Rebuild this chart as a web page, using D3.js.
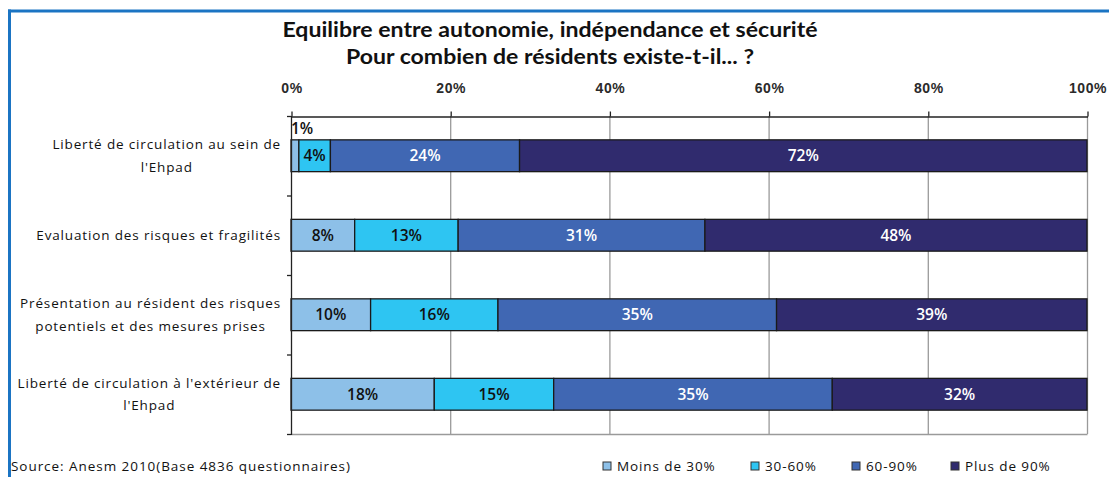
<!DOCTYPE html>
<html>
<head>
<meta charset="utf-8">
<script src="https://cdn.jsdelivr.net/npm/d3@7"></script>
<style>
  html, body { margin: 0; padding: 0; background: #fff; }
  svg { display: block; }
</style>
</head>
<body>
<svg id="chart" width="1109" height="477"></svg>
<script>
// Categories (line breaks mark where the label wraps)
const categories = [
  "Liberté de circulation au sein de\nl'Ehpad",
  "Evaluation des risques et fragilités",
  "Présentation au résident des risques\npotentiels et des mesures prises",
  "Liberté de circulation à l'extérieur de\nl'Ehpad"
];
const seriesNames = ["Moins de 30%", "30-60%", "60-90%", "Plus de 90%"];
const moins30 = [1, 8, 10, 18];
const de30a60 = [4, 13, 16, 15];
const de60a90 = [24, 31, 35, 35];
const plus90  = [72, 48, 39, 32];
const tickValues = [0, 20, 40, 60, 80, 100];
const titleLines = [
  "Equilibre entre autonomie, indépendance et sécurité",
  "Pour combien de résidents existe-t-il... ?"
];
const sourceText = "Source: Anesm 2010(Base 4836 questionnaires)";

const colors = ["#8dc0e8", "#2ec5f2", "#4067b3", "#302b6e"];
const labelColors = ["#111", "#111", "#fff", "#fff"];

const rows = categories.map((c, i) => ({
  cat: c,
  "Moins de 30%": moins30[i],
  "30-60%": de30a60[i],
  "60-90%": de60a90[i],
  "Plus de 90%": plus90[i]
}));

const svg = d3.select("#chart");

// Outer frame: blue rule along top and left
svg.append("line").attr("x1", 8).attr("x2", 1109).attr("y1", 11).attr("y2", 11)
  .attr("stroke", "#1b74c3").attr("stroke-width", 3);
svg.append("line").attr("x1", 9.5).attr("x2", 9.5).attr("y1", 9.5).attr("y2", 477)
  .attr("stroke", "#1b74c3").attr("stroke-width", 3);

// Title
const titleW = [535, 408];
titleLines.forEach((t, i) => {
  svg.append("text")
    .attr("x", 550).attr("y", 37 + i * 27)
    .attr("text-anchor", "middle")
    .attr("font-family", "Lato, 'Open Sans', sans-serif")
    .attr("font-weight", "bold")
    .attr("font-size", 20)
    .attr("fill", "#111")
    .attr("textLength", titleW[i])
    .attr("lengthAdjust", "spacingAndGlyphs")
    .text(t);
});

const plot = { left: 291, right: 1087, top: 116, bottom: 434 };

const x = d3.scaleLinear().domain([0, 1]).range([plot.left, plot.right]);
const y = d3.scaleBand().domain(categories)
  .range([plot.top, plot.bottom]).paddingInner(0.6).paddingOuter(0.3);

const stacked = d3.stack().keys(seriesNames).offset(d3.stackOffsetExpand)(rows);

// Gridlines and plot frame (grey)
const grid = svg.append("g");
grid.selectAll("line.v").data(tickValues.slice(1)).join("line")
  .attr("x1", d => x(d / 100) + 0.5).attr("x2", d => x(d / 100) + 0.5)
  .attr("y1", plot.top).attr("y2", plot.bottom)
  .attr("stroke", "#9a9a9a").attr("stroke-width", 1.3);
grid.append("line")
  .attr("x1", plot.left).attr("x2", plot.right + 0.5)
  .attr("y1", plot.bottom + 0.5).attr("y2", plot.bottom + 0.5)
  .attr("stroke", "#9a9a9a").attr("stroke-width", 1.3);

// Bars
const layer = svg.append("g").selectAll("g").data(stacked).join("g")
  .attr("fill", (d, i) => colors[i]);
layer.selectAll("rect").data(d => d.map(v => ({ v, cat: v.data.cat }))).join("rect")
  .attr("x", d => x(d.v[0]))
  .attr("y", d => y(d.cat))
  .attr("width", d => x(d.v[1]) - x(d.v[0]))
  .attr("height", y.bandwidth())
  .attr("stroke", "#1a1a1a").attr("stroke-width", 1.3);

// Value labels
const labels = svg.append("g")
  .attr("font-family", "'Open Sans', sans-serif")
  .attr("font-size", 15.5)
  .attr("font-weight", 600);
stacked.forEach((s, si) => {
  s.forEach(v => {
    const x0 = x(v[0]), x1 = x(v[1]);
    const value = v.data[s.key];
    const small = (x1 - x0) < 16;
    labels.append("text")
      .attr("x", small ? x0 : (x0 + x1) / 2)
      .attr("y", small ? y(v.data.cat) - 11 : y(v.data.cat) + y.bandwidth() / 2)
      .attr("dy", "0.35em")
      .attr("text-anchor", small ? "start" : "middle")
      .attr("fill", small ? "#111" : labelColors[si])
      .text(value + "%");
  });
});

// Top axis
const xAxis = d3.axisTop(x)
  .tickValues(tickValues.map(d => d / 100))
  .tickFormat(d => Math.round(d * 100) + "%")
  .tickSize(5).tickSizeOuter(0).tickPadding(19);
const gx = svg.append("g").attr("transform", `translate(0.5,${plot.top + 0.5})`).call(xAxis);
gx.select(".domain").attr("stroke", "#222").attr("stroke-width", 1.3);
gx.selectAll(".tick line").attr("stroke", "#222").attr("stroke-width", 1.3);
gx.selectAll("text")
  .attr("font-family", "'Liberation Sans', sans-serif")
  .attr("font-size", 14).attr("font-weight", "bold").attr("fill", "#2a2a2a")
  .attr("letter-spacing", 0.6);

// Left axis: line with ticks at band boundaries
const gy = svg.append("g");
gy.append("line").attr("x1", plot.left + 0.5).attr("x2", plot.left + 0.5)
  .attr("y1", plot.top).attr("y2", plot.bottom + 1)
  .attr("stroke", "#222").attr("stroke-width", 1.3);
const bounds = d3.range(categories.length + 1).map(i => plot.top + i * y.step());
gy.selectAll("line.t").data(bounds).join("line")
  .attr("x1", plot.left - 4).attr("x2", plot.left)
  .attr("y1", d => d + 0.5).attr("y2", d => d + 0.5)
  .attr("stroke", "#222").attr("stroke-width", 1.3);

// Category labels: wrapped, lines centred on a common axis
const catG = svg.append("g")
  .attr("font-family", "'Open Sans', sans-serif")
  .attr("font-size", 13.5)
  .attr("font-weight", 500)
  .attr("fill", "#111")
  .attr("letter-spacing", 0.85);
categories.forEach(c => {
  const lines = c.split("\n");
  const cy = y(c) + y.bandwidth() / 2;
  const g = catG.append("g");
  const texts = lines.map((ln, i) => g.append("text")
    .attr("y", cy + (i - (lines.length - 1) / 2) * 22.5)
    .attr("dy", "0.35em")
    .attr("text-anchor", "middle")
    .text(ln));
  const w = d3.max(texts, t => t.node().getComputedTextLength());
  texts.forEach(t => t.attr("x", 281 - w / 2));
});

// Source note
svg.append("text")
  .attr("x", 11).attr("y", 471)
  .attr("font-family", "'Open Sans', sans-serif")
  .attr("font-size", 13.5)
  .attr("font-weight", 500)
  .attr("letter-spacing", 0.95)
  .attr("fill", "#111")
  .text(sourceText);

// Legend
const legendX = [603, 751, 852, 951];
const legend = svg.append("g")
  .attr("font-family", "'Open Sans', sans-serif")
  .attr("font-size", 13.5)
  .attr("font-weight", 500)
  .attr("letter-spacing", 0.9)
  .attr("fill", "#111");
seriesNames.forEach((name, i) => {
  legend.append("rect")
    .attr("x", legendX[i]).attr("y", 462)
    .attr("width", 8).attr("height", 8)
    .attr("fill", colors[i]).attr("stroke", "#333").attr("stroke-width", 1);
  legend.append("text")
    .attr("x", legendX[i] + 14).attr("y", 466)
    .attr("dy", "0.35em")
    .text(name);
});
</script>
</body>
</html>
